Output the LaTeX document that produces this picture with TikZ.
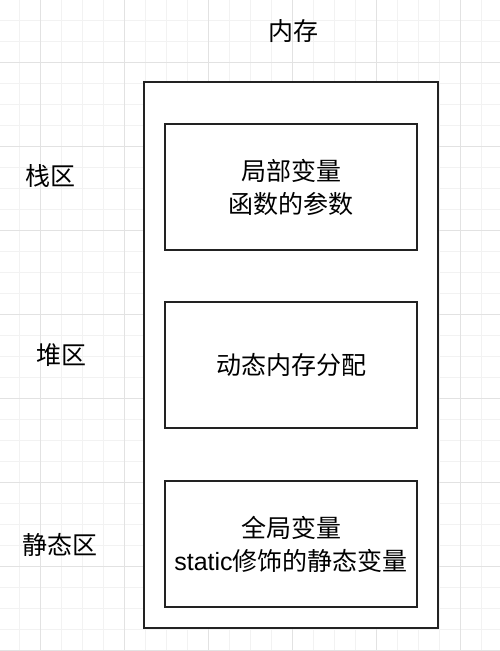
\documentclass[tikz,border=0pt]{standalone}
\usepackage{fontspec}
\setmainfont{Liberation Sans}
\newfontfamily\cjk{Noto Sans CJK SC}
\definecolor{gridminor}{HTML}{F2F2F2}
\definecolor{gridmajor}{HTML}{E2E2E2}
\definecolor{edge}{HTML}{222222}
\tikzset{
  memframe/.style={draw=edge, line width=1.6pt, fill=white},
  regionbox/.style={draw=edge, line width=1.6pt, fill=white, minimum width=252pt, minimum height=126pt, inner sep=0pt, align=center},
  label/.style={font=\cjk\fontsize{25}{33}\selectfont, inner sep=0pt, align=center},
  boxtext/.style={font=\cjk\fontsize{25}{33}\selectfont, align=center},
}
\begin{document}
\begin{tikzpicture}[x=1pt, y=-1pt]
  \useasboundingbox (0,0) rectangle (500,651);
  \fill[white] (0,0) rectangle (500,651);
  % grid
  \foreach \i in {-2,19,...,500} { \draw[gridminor, line width=0.8pt] (\i,0) -- (\i,651); }
  \foreach \j in {-1,20,...,651} { \draw[gridminor, line width=0.8pt] (0,\j) -- (500,\j); }
  \foreach \i in {40,124,...,500} { \draw[gridmajor, line width=0.9pt] (\i,0) -- (\i,651); }
  \foreach \j in {62,146,...,651} { \draw[gridmajor, line width=0.9pt] (0,\j) -- (500,\j); }
  % outer memory frame
  \node[memframe, minimum width=294pt, minimum height=546pt, inner sep=0pt] (mem) at (291,355) {};
  \node[label] (title) at (293,31) {内存};
  % regions
  \node[regionbox, boxtext] (stack) at (291,187) {局部变量\\函数的参数};
  \node[regionbox, boxtext] (heap) at (291,365) {动态内存分配};
  \node[regionbox, boxtext] (static) at (291,544) {全局变量\\{\fontspec{Liberation Sans}static}修饰的静态变量};
  % side labels
  \node[label] (stacklbl) at (50,176) {栈区};
  \node[label] (heaplbl) at (61,355) {堆区};
  \node[label] (staticlbl) at (60.5,545) {静态区};
\end{tikzpicture}
\end{document}
